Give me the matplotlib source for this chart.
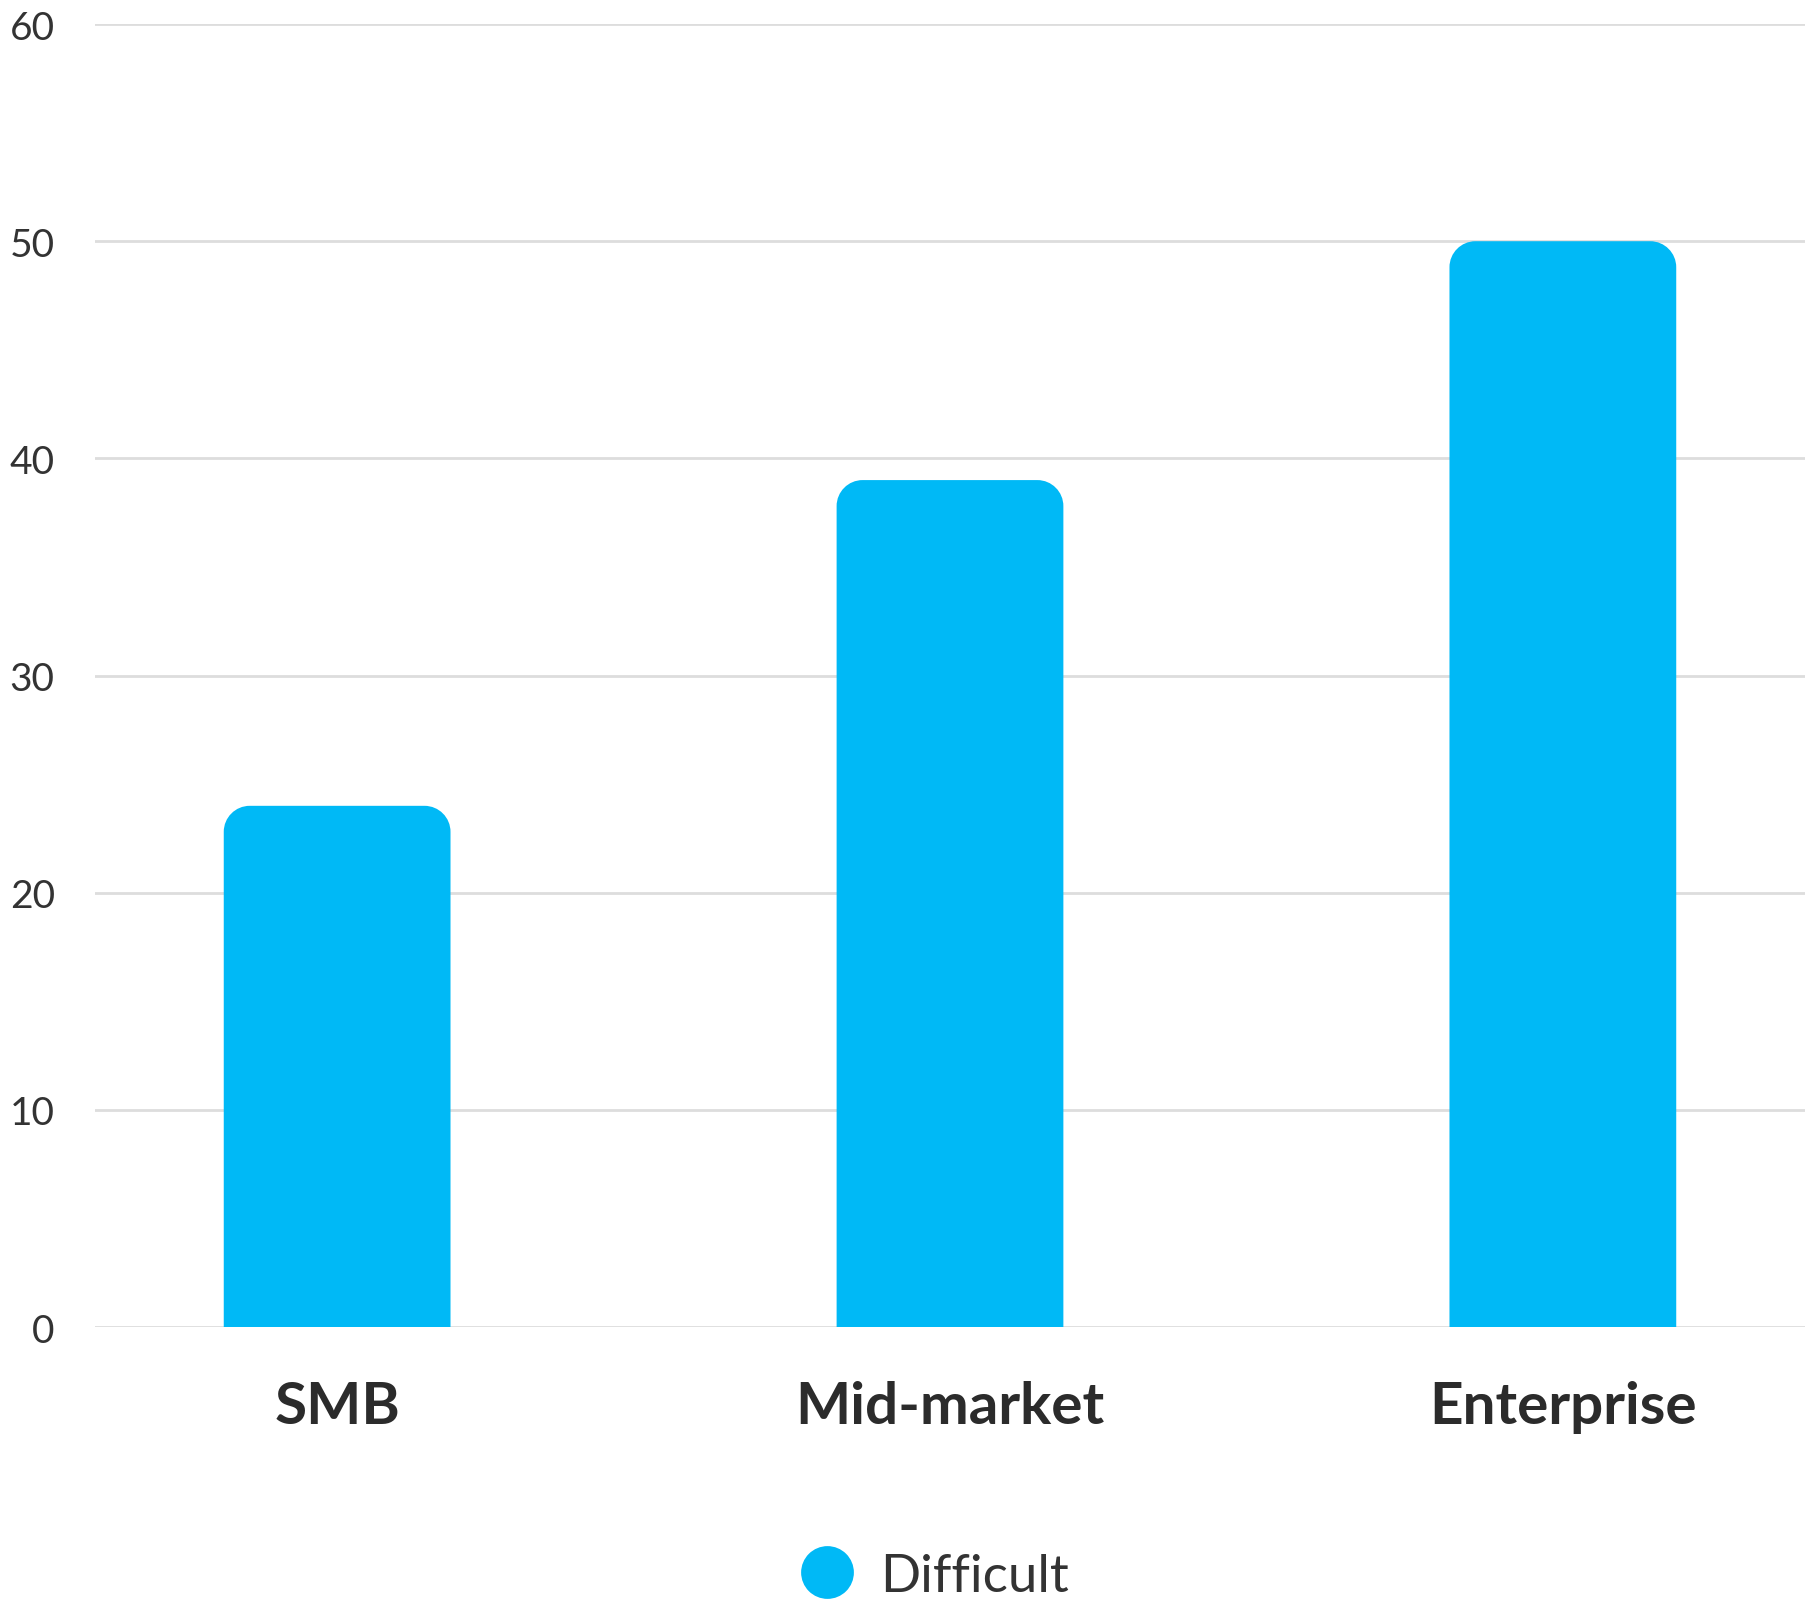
import matplotlib
matplotlib.use("Agg")
import matplotlib.pyplot as plt
from matplotlib.path import Path
from matplotlib.patches import PathPatch
from matplotlib.lines import Line2D

categories = ["SMB", "Mid-market", "Enterprise"]
difficult = [24, 39, 50]
y_ticks = [0, 10, 20, 30, 40, 50, 60]

BAR_COLOR = "#00B9F6"
TEXT_COLOR = "#333333"

plt.rcParams["font.family"] = ["Lato", "DejaVu Sans"]

fig = plt.figure(figsize=(18.14, 16.06), dpi=100)
ax = fig.add_axes([0.0524, 0.1731, 0.9426, 0.8113])

x = list(range(len(categories)))
bars = ax.bar(x, difficult, width=0.37, color=BAR_COLOR, zorder=2)
ax.set_xlim(-0.395, len(categories) - 1 + 0.395)
ax.set_ylim(0, 60)


def rounded_top(x0, y0, w, h, rx, ry):
    # rectangle with rounded top corners only
    k = 0.5523
    verts = [
        (x0, y0), (x0 + w, y0), (x0 + w, y0 + h - ry),
        (x0 + w, y0 + h - ry + k * ry), (x0 + w - rx + k * rx, y0 + h), (x0 + w - rx, y0 + h),
        (x0 + rx, y0 + h),
        (x0 + rx - k * rx, y0 + h), (x0, y0 + h - ry + k * ry), (x0, y0 + h - ry),
        (x0, y0),
    ]
    codes = [Path.MOVETO, Path.LINETO, Path.LINETO,
             Path.CURVE4, Path.CURVE4, Path.CURVE4,
             Path.LINETO,
             Path.CURVE4, Path.CURVE4, Path.CURVE4,
             Path.CLOSEPOLY]
    return Path(verts, codes)


# corner radius in pixels converted to data units
fig.canvas.draw()
bbox = ax.get_window_extent()
px_x = bbox.width / (ax.get_xlim()[1] - ax.get_xlim()[0])
px_y = bbox.height / (ax.get_ylim()[1] - ax.get_ylim()[0])
radius = 26
for b in bars:
    b.set_visible(False)
    path = rounded_top(b.get_x(), 0, b.get_width(), b.get_height(), radius / px_x, radius / px_y)
    ax.add_patch(PathPatch(path, facecolor=BAR_COLOR, edgecolor="none", zorder=2))

ax.set_yticks(y_ticks)
ax.yaxis.grid(True, color="#dddddd", linewidth=2, zorder=0)
ax.set_axisbelow(True)
ax.tick_params(axis="y", length=0, pad=29, labelsize=28, labelcolor=TEXT_COLOR)
ax.tick_params(axis="x", length=0, pad=38, labelsize=42, labelcolor="#2b2b2b")
ax.set_xticks(x)
ax.set_xticklabels(categories, fontweight="bold")
for s in ax.spines.values():
    s.set_visible(False)

handle = Line2D([], [], marker="o", linestyle="none", markersize=38,
                markerfacecolor=BAR_COLOR, markeredgecolor="none")
fig.legend([handle], ["Difficult"], loc="center", bbox_to_anchor=(0.508, 0.018),
           frameon=False, fontsize=38, labelcolor=TEXT_COLOR, handletextpad=0.0)

fig.savefig("out.png", dpi=100, facecolor="white")
